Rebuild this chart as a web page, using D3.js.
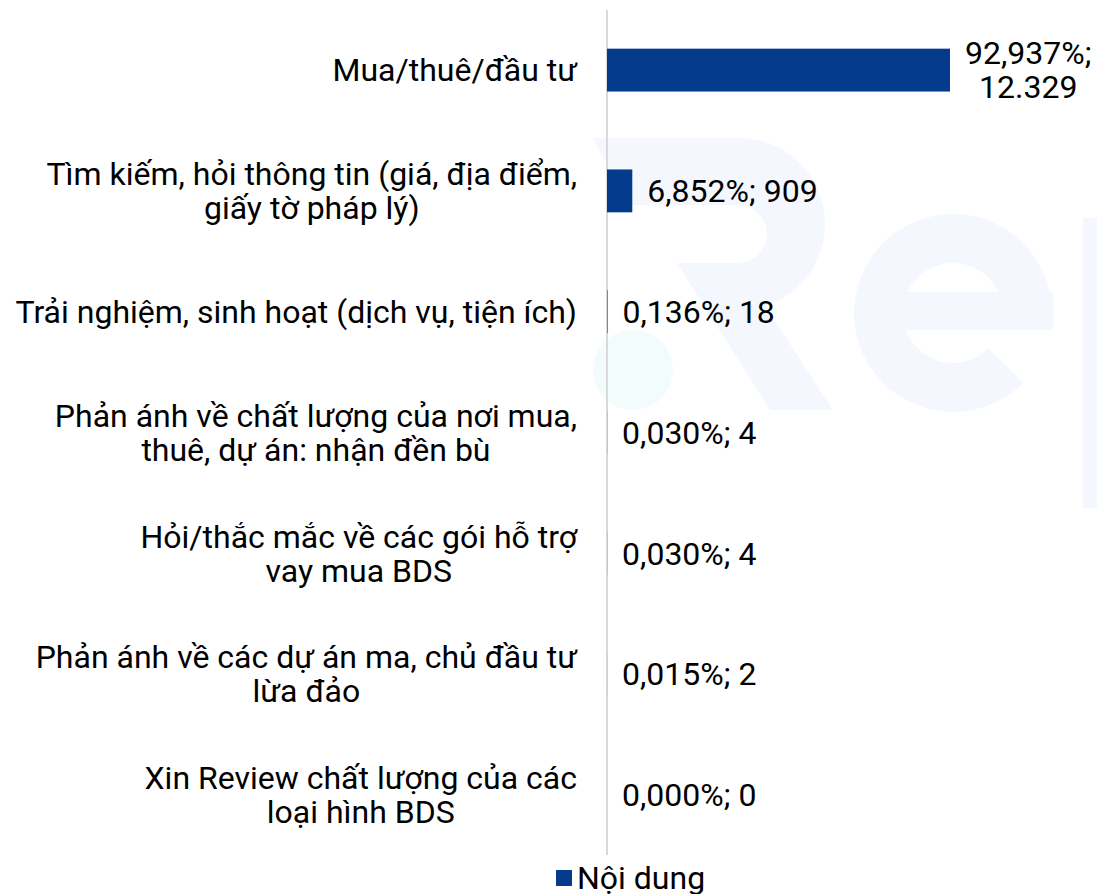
<!DOCTYPE html>
<html>
<head>
<meta charset="utf-8">
<script src="https://cdn.jsdelivr.net/npm/d3@7"></script>
<style>
  body { margin: 0; background: #fff; }
  text { font-family: Roboto, "Noto Sans", sans-serif; }
</style>
</head>
<body>
<div id="chart"></div>
<script>
// categories (each one split into its display lines)
var categories = [
    ["Mua/thuê/đầu tư"],
    ["Tìm kiếm, hỏi thông tin (giá, địa điểm,", "giấy tờ pháp lý)"],
    ["Trải nghiệm, sinh hoạt (dịch vụ, tiện ích)"],
    ["Phản ánh về chất lượng của nơi mua,", "thuê, dự án: nhận đền bù"],
    ["Hỏi/thắc mắc về các gói hỗ trợ", "vay mua BDS"],
    ["Phản ánh về các dự án ma, chủ đầu tư", "lừa đảo"],
    ["Xin Review chất lượng của các", "loại hình BDS"]
];
var percents = [92.937, 6.852, 0.136, 0.030, 0.030, 0.015, 0.000];
var counts = ["12.329", "909", "18", "4", "4", "2", "0"];
var seriesName = "Nội dung";

var W = 1097, H = 894;
var axisX = 607, plotTop = 10, plotBottom = 855;
var barColor = "#043b8c";
var fs = 32, lh = 34;

var svg = d3.select("#chart").append("svg")
    .attr("width", W)
    .attr("height", H);

// faint watermark logo in the background
var wm = svg.append("g").attr("class", "watermark").attr("fill", "#f4f7fd");
wm.append("path")
    .attr("d", "M593,138 H738 A86,86 0 0 1 765,306 L833,410 H770 L677,263 H738 A29,29 0 0 0 738,205 H628 Z");
wm.append("path")
    .attr("transform", "translate(953,313)")
    .attr("d", d3.arc().innerRadius(50).outerRadius(99).startAngle(2.35).endAngle(Math.PI * 2.5)());
wm.append("rect").attr("x", 903).attr("y", 292).attr("width", 150).attr("height", 38);
wm.append("rect").attr("x", 1083).attr("y", 218).attr("width", 30).attr("height", 290);
wm.append("circle")
    .attr("cx", 633).attr("cy", 370).attr("r", 40)
    .attr("fill", "#f2fcfd");

var x = d3.scaleLinear()
    .domain([0, 92.937])
    .range([axisX, 950]);

var y = d3.scaleBand()
    .domain(d3.range(categories.length))
    .range([plotTop, plotBottom])
    .paddingInner(0.645)
    .paddingOuter(0.32);

// vertical axis line
svg.append("line")
    .attr("x1", axisX).attr("x2", axisX)
    .attr("y1", plotTop).attr("y2", plotBottom)
    .attr("stroke", "#d9d9d9")
    .attr("stroke-width", 2);

svg.append("g").selectAll("rect")
    .data(percents)
    .enter().append("rect")
    .attr("x", axisX)
    .attr("y", function (d, i) { return y(i); })
    .attr("width", function (d) { return x(d) - axisX; })
    .attr("height", y.bandwidth())
    .attr("fill", barColor);

// writes centered multi-line text, block aligned on its left or right edge
function multiline(g, lines, edge, cy, anchor) {
    var t = g.append("text")
        .attr("font-size", fs)
        .attr("fill", "#000")
        .attr("text-anchor", "middle");
    var n = lines.length;
    lines.forEach(function (l, k) {
        t.append("tspan")
            .attr("y", cy + (k - (n - 1) / 2) * lh)
            .attr("dy", "0.35em")
            .text(l);
    });
    var maxW = 0;
    t.selectAll("tspan").each(function () {
        maxW = Math.max(maxW, this.getComputedTextLength());
    });
    var cx = anchor === "end" ? edge - maxW / 2 : edge + maxW / 2;
    t.selectAll("tspan").attr("x", cx);
}

var labels = svg.append("g").attr("class", "cat-labels");
categories.forEach(function (lines, i) {
    multiline(labels, lines, 577, y(i) + y.bandwidth() / 2, "end");
});

var vals = svg.append("g").attr("class", "val-labels");
percents.forEach(function (p, i) {
    var pct = p.toFixed(3).replace(".", ",") + "%;";
    var lines = x(p) + 16 + 200 > W ? [pct, counts[i]] : [pct + " " + counts[i]];
    multiline(vals, lines, x(p) + 15, y(i) + y.bandwidth() / 2, "start");
});

// legend
var lg = svg.append("g").attr("transform", "translate(556,870)");
lg.append("rect").attr("width", 16).attr("height", 16).attr("fill", barColor);
lg.append("text")
    .attr("x", 21).attr("y", 8).attr("dy", "0.35em")
    .attr("font-size", fs)
    .text(seriesName);
</script>
</body>
</html>
